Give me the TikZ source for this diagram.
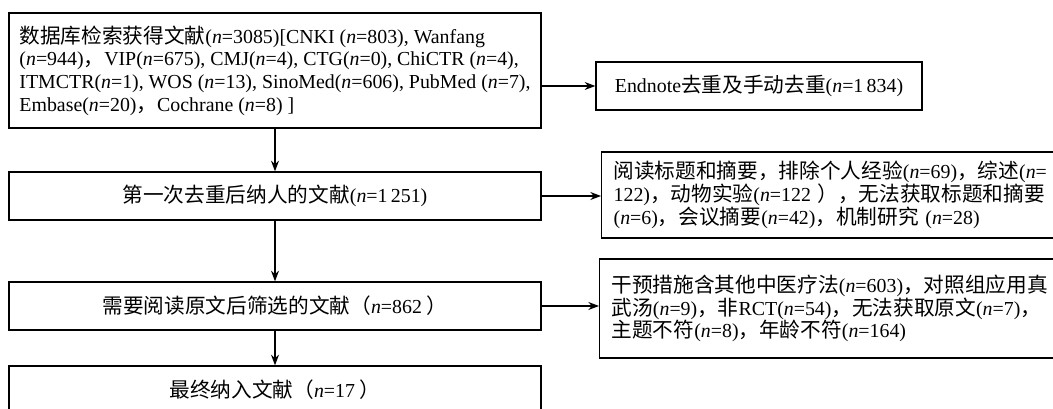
\documentclass[tikz,border=0pt]{standalone}
\usepackage{fontspec}
\setmainfont{Liberation Serif}
\newfontfamily\zhfont[Scale=1.04]{Noto Sans CJK SC}
\newcommand{\zh}[1]{{\zhfont #1}}
\usepackage{tikz}
\usetikzlibrary{arrows.meta}

\tikzset{
  flowbox/.style={draw,line width=1pt,rectangle,inner sep=0.75pt,
    font=\fontsize{14.9}{17}\selectfont},
  flowarrow/.style={line width=1pt,-{Stealth[length=8pt,width=6pt]}}
}

\begin{document}
\begin{tikzpicture}[x=0.75pt,y=0.75pt,yscale=-1,xscale=1]
%set diagram left start at 0, and has height of 409
\useasboundingbox (0,0) rectangle (1053,409);
\clip (0,0) rectangle (1053,409);

%Shape: Rectangle [databases]
\node (db) [flowbox,minimum width=399pt,minimum height=86.25pt,align=left] at (275,70.5) {\zh{数据库检索获得文献}(\textit{n}=3085)[CNKI (\textit{n}=803), Wanfang\\
(\textit{n}=944)\zh{，}VIP(\textit{n}=675), CMJ(\textit{n}=4), CTG(\textit{n}=0), ChiCTR (\textit{n}=4),\\
ITMCTR(\textit{n}=1), WOS (\textit{n}=13), SinoMed(\textit{n}=606), PubMed (\textit{n}=7),\\
Embase(\textit{n}=20)\zh{，}Cochrane (\textit{n}=8) ]};
%Shape: Rectangle [endnote]
\node (endnote) [flowbox,minimum width=244.5pt,minimum height=36pt] at (759,86) {Endnote\zh{去重及手动去重}(\textit{n}=1\,834)};
%Shape: Rectangle [first]
\node (first) [flowbox,minimum width=399pt,minimum height=36pt] at (275,196) {\zh{第一次去重后纳人的文献}(\textit{n}=1\,251)};
%Shape: Rectangle [exclone]
\node (exclone) [flowbox,anchor=west,minimum height=64.5pt,inner xsep=9pt,text width=420pt,align=left] at (601,195) {\zh{阅读标题和摘要，排除个人经验}(\textit{n}=69)\zh{，综述}(\textit{n}=\\
122)\zh{，动物实验}(\textit{n}=122 \zh{）}\zh{，无法获取标题和摘要}\\
(\textit{n}=6)\zh{，会议摘要}(\textit{n}=42)\zh{，机制研究} (\textit{n}=28)};
%Shape: Rectangle [fulltext]
\node (fulltext) [flowbox,minimum width=399pt,minimum height=36pt] at (275,306) {\zh{需要阅读原文后筛选的文献（}\textit{n}=862 \zh{）}};
%Shape: Rectangle [excltwo]
\node (excltwo) [flowbox,anchor=west,minimum height=74.25pt,inner xsep=9pt,text width=420pt,align=left] at (599,308.5) {\zh{干预措施含其他中医疗法}(\textit{n}=603)\zh{，对照组应用真}\\
\zh{武汤}(\textit{n}=9)\zh{，非}RCT(\textit{n}=54)\zh{，无法获取原文}(\textit{n}=7)\zh{，}\\
\zh{主题不符}(\textit{n}=8)\zh{，年龄不符}(\textit{n}=164)};
%Shape: Rectangle [final]
\node (final) [flowbox,minimum width=399pt,minimum height=36pt] at (275,390) {\zh{最终纳入文献（}\textit{n}=17 \zh{）}};

% Arrows
\draw [flowarrow] (db) -- (first);
\draw [flowarrow] (first) -- (fulltext);
\draw [flowarrow] (fulltext) -- (final);
\draw [flowarrow] (db.east |- endnote.west) -- (endnote.west);
\draw [flowarrow] (first.east) -- (first.east -| exclone.west);
\draw [flowarrow] (fulltext.east) -- (fulltext.east -| excltwo.west);
\end{tikzpicture}
\end{document}
